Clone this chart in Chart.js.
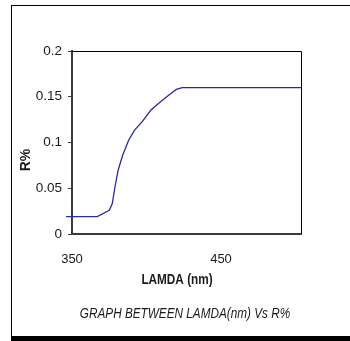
<!DOCTYPE html>
<html>
<head>
<meta charset="utf-8">
<script src="https://cdn.jsdelivr.net/npm/chart.js@4.4.1/dist/chart.umd.min.js"></script>
<style>
  html, body { margin: 0; padding: 0; background: #fff; overflow: hidden; }
  #wrap { position: relative; width: 350px; height: 341px; }
  #frame { position: absolute; left: 11px; top: 5px; width: 400px; height: 330px;
           border-left: 1.5px solid #000; border-top: 1.5px solid #000; border-bottom: 5px solid #000; }
  #c { position: absolute; left: 0; top: 0; }
</style>
</head>
<body>
<div id="wrap">
  <div id="frame"></div>
  <canvas id="c" width="350" height="341"></canvas>
</div>
<script>
// ---- data ----
const LAMBDA_NM = [346, 367, 375, 377, 379, 381, 384, 388, 392, 397, 403, 408, 414, 416, 420, 424, 504];
const R_PERCENT = [0.019, 0.019, 0.026, 0.033, 0.053, 0.070, 0.086, 0.1025, 0.1135, 0.1225, 0.1355, 0.1425, 0.1505, 0.153, 0.158, 0.160, 0.160];
const X_TICKS = [350, 450];
const Y_TICKS = [0, 0.05, 0.1, 0.15, 0.2];
const Y_TICK_LABELS = ['0', '0.05', '0.1', '0.15', '0.2'];
const X_TITLE = 'LAMDA (nm)';
const Y_TITLE = 'R%';
const CAPTION = 'GRAPH BETWEEN LAMDA(nm) Vs R%';

const SANS = "'Liberation Sans', Arial, sans-serif";
const TXT = '#1a1a1a';

// draws the plot frame (top/right) and the condensed-looking titles
const frameAndTitles = {
  id: 'frameAndTitles',
  afterDatasetsDraw(chart) {
    const { ctx, chartArea: a } = chart;
    ctx.save();
    ctx.strokeStyle = '#000';
    ctx.lineWidth = 1;
    ctx.beginPath();
    ctx.moveTo(a.left, a.top + 0.5);
    ctx.lineTo(a.right + 0.5, a.top + 0.5);
    ctx.lineTo(a.right + 0.5, a.bottom);
    ctx.stroke();
    ctx.restore();
  },
  afterDraw(chart) {
    const { ctx } = chart;
    const narrowText = (text, font, x, y) => {
      ctx.save();
      ctx.font = font;
      ctx.translate(x, y);
      ctx.scale(0.84, 1);
      ctx.fillText(text, 0, 0);
      ctx.restore();
    };
    ctx.save();
    ctx.fillStyle = TXT;
    ctx.textAlign = 'center';
    ctx.textBaseline = 'middle';
    narrowText(X_TITLE, 'bold 14px ' + SANS, 177, 280);
    narrowText(CAPTION, 'italic 14px ' + SANS, 185, 314);
    ctx.translate(26, 160);
    ctx.rotate(-Math.PI / 2);
    ctx.font = 'bold 14px ' + SANS;
    ctx.fillText(Y_TITLE, 0, 0);
    ctx.restore();
  }
};

new Chart(document.getElementById('c'), {
  type: 'line',
  data: {
    datasets: [{
      data: LAMBDA_NM.map((x, i) => ({ x: x, y: R_PERCENT[i] })),
      borderColor: '#2b2b9b',
      borderWidth: 1.3,
      pointRadius: 0,
      tension: 0,
      fill: false,
      clip: false
    }]
  },
  options: {
    responsive: false,
    animation: false,
    events: [],
    layout: { padding: { left: 0, right: 49, top: 51, bottom: 0 } },
    plugins: {
      legend: { display: false },
      tooltip: { enabled: false },
      title: { display: false }
    },
    scales: {
      x: {
        type: 'linear',
        min: 350,
        max: 503.7,
        afterBuildTicks: s => { s.ticks = X_TICKS.map(v => ({ value: v })); },
        afterFit: s => { s.height = 107; },
        grid: { display: true, drawOnChartArea: false, drawTicks: false },
        border: { display: true, color: '#3a3a3a', width: 2 },
        ticks: { color: TXT, padding: 17.5, maxRotation: 0, font: { family: SANS, size: 13 } }
      },
      y: {
        min: 0,
        max: 0.2,
        afterBuildTicks: s => { s.ticks = Y_TICKS.map(v => ({ value: v })); },
        afterFit: s => { s.width = 72; },
        grid: { display: true, drawOnChartArea: false, drawTicks: true, tickLength: 4, tickColor: '#3a3a3a', tickWidth: 1 },
        border: { display: true, color: '#3a3a3a', width: 2 },
        ticks: { color: TXT, padding: 6, font: { family: SANS, size: 13.5 },
                 callback: (v, i) => Y_TICK_LABELS[i] }
      }
    }
  },
  plugins: [frameAndTitles]
});
</script>
</body>
</html>
